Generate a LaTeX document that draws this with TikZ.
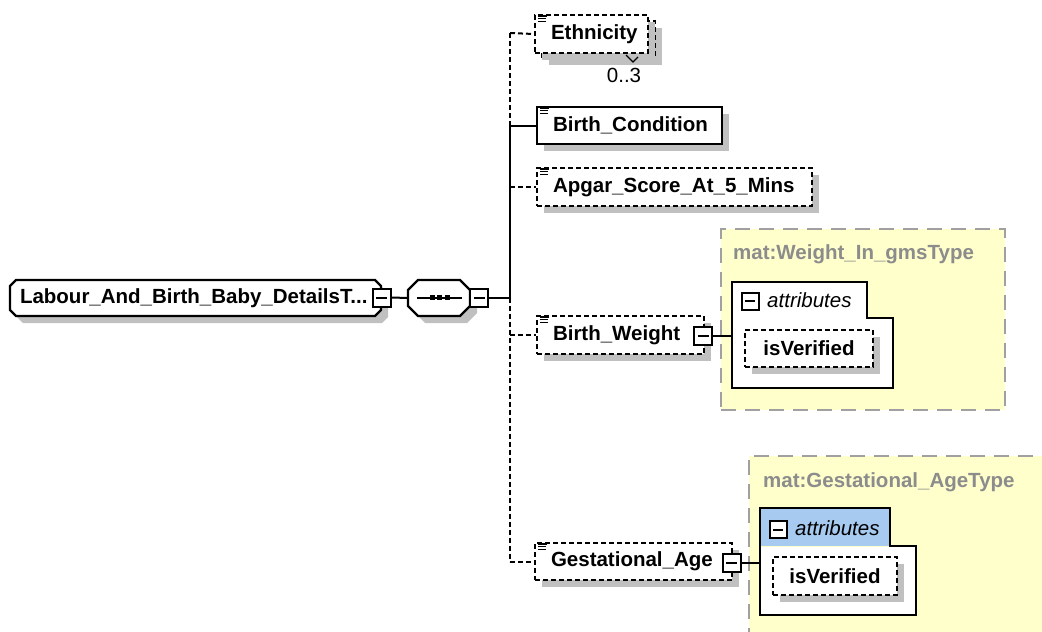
\documentclass[tikz,border=0pt]{standalone}
\usepackage{fontspec}
\setmainfont{Liberation Sans}
\usetikzlibrary{shadows}
\definecolor{shgray}{HTML}{C0C0C0}
\definecolor{ybg}{HTML}{FFFFCC}
\definecolor{ygray}{HTML}{A0A0A0}
\definecolor{tgray}{HTML}{8C8C8C}
\definecolor{tabblue}{HTML}{A6CAF0}
\newcommand\elemicon[1]{%
  \draw[line width=1.2pt] ([shift={(4pt,-2pt)}]#1.north west) -- +(9pt,0);
  \draw[line width=1.2pt] ([shift={(4pt,-4.8pt)}]#1.north west) -- +(8pt,0);
  \draw[line width=1.2pt] ([shift={(4pt,-7.6pt)}]#1.north west) -- +(8pt,0);}
\begin{document}
\begin{tikzpicture}[x=1pt,y=-1pt,
  font=\fontsize{20.5}{24}\selectfont\bfseries,
  shd/.style={drop shadow={shadow xshift=7pt, shadow yshift=-7pt, fill=shgray, opacity=1}},
  elem/.style={draw=black, line width=2.2pt, fill=white, minimum height=37pt, inner xsep=16pt, inner ysep=0pt, shd},
  opt/.style={elem, dash pattern=on 5pt off 3pt},
  col/.style={draw=black, line width=2pt, fill=white, minimum size=18pt, inner sep=0pt,
    path picture={\draw[line width=2pt] ([xshift=3.5pt]path picture bounding box.west) -- ([xshift=-3.5pt]path picture bounding box.east);}},
  conn/.style={line width=2pt},
  dconn/.style={line width=2pt, dash pattern=on 5pt off 3pt},
  typebox/.style={draw=ygray, fill=ybg, line width=2.4pt, dash pattern=on 15pt off 9pt, inner sep=0pt},
  tlabel/.style={text=tgray, anchor=west, inner sep=0pt},
  attrtxt/.style={font=\fontsize{20.5}{24}\selectfont\itshape, anchor=west, inner sep=0pt},
  abox/.style={draw=black, line width=2.2pt},
  octo/.style={draw=black, line width=2.2pt, fill=white},
  octoshd/.style={fill=shgray, shift={(7,7)}},
  frame/.style={inner sep=0pt}
]
\useasboundingbox (0,0) rectangle (1042,632);
\clip (0,0) rectangle (1042,632);

% ---------- type boxes (background) ----------
\node[typebox, minimum width=284pt, minimum height=181pt] (t1) at (863,319.5) {};
\node[tlabel] (t1l) at (733,254) {mat:Weight\_In\_gmsType};
\node[typebox, minimum width=320pt, minimum height=220pt] (t2) at (909,566) {};
\node[tlabel] (t2l) at (763,482) {mat:Gestational\_AgeType};

% ---------- root ----------
\fill[octoshd] (16,280) -- (375,280) -- (381,286) -- (381,310) -- (375,316) -- (16,316) -- (10,310) -- (10,286) -- cycle;
\draw[octo] (16,280) -- (375,280) -- (381,286) -- (381,310) -- (375,316) -- (16,316) -- (10,310) -- (10,286) -- cycle;
\node[frame, minimum width=371pt, minimum height=36pt,
  label={[anchor=west, inner sep=0pt, xshift=10pt]west:Labour\_And\_Birth\_Baby\_DetailsT...}] (root) at (195.5,298) {};
\node[col] (rootc) at (381.5,297.5) {};

% ---------- sequence ----------
\fill[octoshd] (418,280) -- (460,280) -- (470,290) -- (470,306) -- (460,316) -- (418,316) -- (408,306) -- (408,290) -- cycle;
\draw[octo] (418,280) -- (460,280) -- (470,290) -- (470,306) -- (460,316) -- (418,316) -- (408,306) -- (408,290) -- cycle;
\node[frame, minimum width=62pt, minimum height=36pt] (seq) at (439,298) {};
\draw[line width=2pt] (417,297.5) -- (462,297.5);
\fill (429.5,295) rectangle (434.5,300);
\fill (437,295) rectangle (442,300);
\fill (444.5,295) rectangle (449.5,300);
\node[col] (seqc) at (479,297.5) {};

\draw[conn] (rootc.east) -- (seq.west);

% ---------- trunk ----------
\coordinate (tE) at (510,33);
\coordinate (tB) at (510,125.5);
\coordinate (tA) at (510,187);
\coordinate (tS) at (510,297.5);
\coordinate (tW) at (510,335);
\coordinate (tG) at (510,561.5);
\draw[conn] (seqc.east) -- (tS);
\draw[dconn] (tE) -- (tB);
\draw[conn] (tB) -- (tS);
\draw[dconn] (tS) -- (tG);

% ---------- Ethnicity (multiple) ----------
\fill[shgray] (549,28) rectangle (662,65);
\draw[dconn, line width=2.2pt, fill=white] (542,21) rectangle (655,58);
\node[opt, drop shadow={opacity=0}, minimum width=113pt, minimum height=38pt] (eth) at (591.5,34) {\makebox[81pt][l]{Ethnicity}};
\elemicon{eth}
\draw[line width=1.2pt] (626,55) -- (633,62) -- (638,57);
\node[font=\fontsize{20.5}{24}\selectfont, inner sep=0pt] (ethm) at (624,75) {0..3};
\draw[dconn] (tE) -- (eth.west);

% ---------- Birth_Condition ----------
\node[elem, minimum width=185pt] (bc) at (629.5,125.5) {\makebox[153pt][l]{Birth\_Condition}};
\elemicon{bc}
\draw[conn] (tB) -- (bc.west);

% ---------- Apgar ----------
\node[opt, minimum width=275pt, minimum height=38pt] (ap) at (674.5,187) {\makebox[243pt][l]{Apgar\_Score\_At\_5\_Mins}};
\elemicon{ap}
\draw[dconn] (tA) -- (ap.west);

% ---------- Birth_Weight ----------
\node[opt, minimum width=167pt, minimum height=38pt] (bw) at (620.5,335) {\makebox[135pt][l]{Birth\_Weight}};
\elemicon{bw}
\node[col] (bwc) at (703,335.5) {};
\draw[dconn] (tW) -- (bw.west);

% attributes box 1
\coordinate (a1in) at (732,335.5);
\draw[abox, fill=white] (732,282) -- (867,282) -- (867,318) -- (893,318) -- (893,388) -- (732,388) -- cycle;
\node[col, minimum size=17pt] (a1c) at (750,301) {};
\node[attrtxt] (a1t) at (767,300) {attributes};
\node[opt, minimum width=128pt, minimum height=37pt, inner xsep=0pt] (iv1) at (809,348.5) {isVerified};
\draw[conn] (bwc.east) -- (a1in);

% ---------- Gestational_Age ----------
\node[opt, minimum width=197pt, minimum height=37pt] (ga) at (633.5,561.5) {\makebox[165pt][l]{Gestational\_Age}};
\elemicon{ga}
\node[col] (gac) at (731.5,563) {};
\draw[dconn] (tG) -- (ga.west);

% attributes box 2
\coordinate (a2in) at (760,563);
\fill[tabblue] (760,508) rectangle (890,546);
\draw[abox] (760,508) -- (890,508) -- (890,546) -- (916,546) -- (916,615) -- (760,615) -- cycle;
\fill[white] (761,547) rectangle (915,614);
\draw[abox] (760,546) -- (760,615) -- (916,615) -- (916,546) -- (890,546);
\node[col, minimum size=17pt] (a2c) at (778,529.5) {};
\node[attrtxt] (a2t) at (795,528) {attributes};
\node[opt, minimum width=124pt, minimum height=38pt, inner xsep=0pt] (iv2) at (835,576) {isVerified};
\draw[conn] (gac.east) -- (a2in);
\end{tikzpicture}
\end{document}
